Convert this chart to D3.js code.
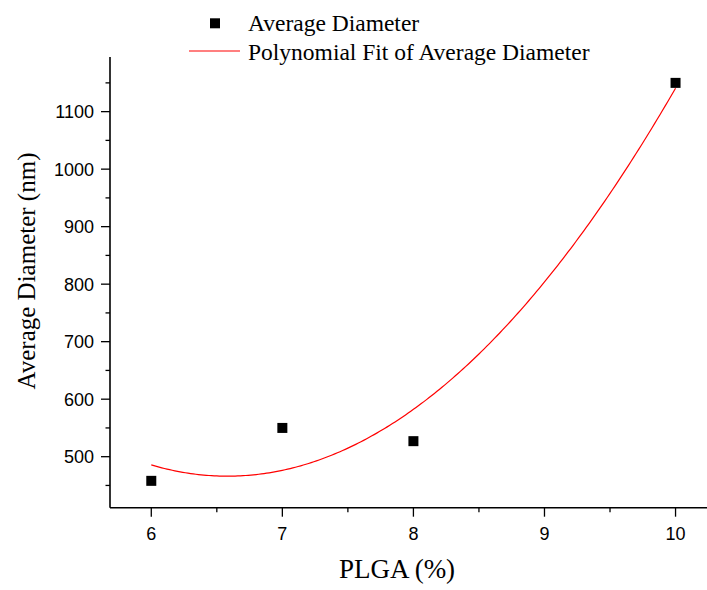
<!DOCTYPE html>
<html>
<head>
<meta charset="utf-8">
<script src="https://cdn.jsdelivr.net/npm/d3@7"></script>
<style>
  html, body { margin: 0; padding: 0; background: #fff; }
  svg { display: block; }
</style>
</head>
<body>
<svg id="chart" width="707" height="590"></svg>
<script>
// PLGA concentration (%) and measured average particle diameter (nm)
const plga = [6, 7, 8, 10];
const diameter = [458, 550, 527, 1150];

const xTicks = [6, 7, 8, 9, 10];
const yTicks = [500, 600, 700, 800, 900, 1000, 1100];

const legendLabels = ["Average Diameter", "Polynomial Fit of Average Diameter"];
const xTitle = "PLGA (%)";
const yTitle = "Average Diameter (nm)";

// Least-squares quadratic fit y = a + b*x + c*x^2
function quadFit(xs, ys) {
  const n = xs.length;
  let s = [0, 0, 0, 0, 0], t = [0, 0, 0];
  for (let i = 0; i < n; i++) {
    const x = xs[i], y = ys[i];
    for (let k = 0; k <= 4; k++) s[k] += Math.pow(x, k);
    for (let k = 0; k <= 2; k++) t[k] += Math.pow(x, k) * y;
  }
  const M = [[s[0], s[1], s[2], t[0]], [s[1], s[2], s[3], t[1]], [s[2], s[3], s[4], t[2]]];
  for (let i = 0; i < 3; i++) {
    for (let j = i + 1; j < 3; j++) {
      const f = M[j][i] / M[i][i];
      for (let k = i; k < 4; k++) M[j][k] -= f * M[i][k];
    }
  }
  const c = [0, 0, 0];
  for (let i = 2; i >= 0; i--) {
    let v = M[i][3];
    for (let k = i + 1; k < 3; k++) v -= M[i][k] * c[k];
    c[i] = v / M[i][i];
  }
  return c;
}

const coef = quadFit(plga, diameter);
const fitX = d3.range(0, 201).map(i => d3.min(plga) + (d3.max(plga) - d3.min(plga)) * i / 200);
const fitPts = fitX.map(x => [x, coef[0] + coef[1] * x + coef[2] * x * x]);

const svg = d3.select("#chart");

const x = d3.scaleLinear().domain([5.685, 10.24]).range([110, 707]);
const y = d3.scaleLinear().domain([411.3, 1195]).range([507.7, 57]);

const axisColor = "#000";

// x axis
const gx = svg.append("g").attr("transform", `translate(0,${y.range()[0]})`);
gx.append("line").attr("x1", x.range()[0]).attr("x2", x.range()[1])
  .attr("stroke", axisColor).attr("stroke-width", 1.6);
const xMinor = [6.5, 7.5, 8.5, 9.5];
gx.selectAll(".xminor").data(xMinor).enter().append("line")
  .attr("x1", d => x(d)).attr("x2", d => x(d)).attr("y1", 0).attr("y2", 4.5)
  .attr("stroke", axisColor).attr("stroke-width", 1.3);
gx.selectAll(".xmajor").data(xTicks).enter().append("line")
  .attr("x1", d => x(d)).attr("x2", d => x(d)).attr("y1", 0).attr("y2", 9)
  .attr("stroke", axisColor).attr("stroke-width", 1.3);
gx.selectAll(".xlab").data(xTicks).enter().append("text")
  .attr("x", d => x(d)).attr("y", 32)
  .attr("text-anchor", "middle")
  .attr("font-family", "Liberation Sans, Arial, sans-serif")
  .attr("font-size", 18).text(d => d);

// y axis
const gy = svg.append("g").attr("transform", `translate(${x.range()[0]},0)`);
gy.append("line").attr("y1", y.range()[0]).attr("y2", y.range()[1])
  .attr("stroke", axisColor).attr("stroke-width", 1.6);
const yMinor = d3.range(450, 1200, 100);
gy.selectAll(".yminor").data(yMinor).enter().append("line")
  .attr("x1", 0).attr("x2", -4.5).attr("y1", d => y(d)).attr("y2", d => y(d))
  .attr("stroke", axisColor).attr("stroke-width", 1.3);
gy.selectAll(".ymajor").data(yTicks).enter().append("line")
  .attr("x1", 0).attr("x2", -9).attr("y1", d => y(d)).attr("y2", d => y(d))
  .attr("stroke", axisColor).attr("stroke-width", 1.3);
gy.selectAll(".ylab").data(yTicks).enter().append("text")
  .attr("x", -16).attr("y", d => y(d) + 6.5)
  .attr("text-anchor", "end")
  .attr("font-family", "Liberation Sans, Arial, sans-serif")
  .attr("font-size", 18).text(d => d);

// fitted curve
const line = d3.line().x(d => x(d[0])).y(d => y(d[1]));
svg.append("path").datum(fitPts).attr("d", line)
  .attr("fill", "none").attr("stroke", "#ff0000").attr("stroke-width", 1.2);

// data markers
const ms = 10;
svg.selectAll(".pt").data(plga.map((v, i) => [v, diameter[i]])).enter().append("rect")
  .attr("x", d => x(d[0]) - ms / 2).attr("y", d => y(d[1]) - ms / 2)
  .attr("width", ms).attr("height", ms).attr("fill", "#000");

// axis titles
svg.append("text").attr("x", 397).attr("y", 578)
  .attr("text-anchor", "middle")
  .attr("font-family", "Liberation Serif, Times New Roman, serif")
  .attr("font-size", 27).text(xTitle);
svg.append("text")
  .attr("transform", "translate(35,271) rotate(-90)")
  .attr("text-anchor", "middle")
  .attr("font-family", "Liberation Serif, Times New Roman, serif")
  .attr("font-size", 25).text(yTitle);

// legend
const lg = svg.append("g");
lg.append("rect").attr("x", 210).attr("y", 18.3).attr("width", ms).attr("height", ms).attr("fill", "#000");
lg.append("line").attr("x1", 189).attr("x2", 240).attr("y1", 51).attr("y2", 51)
  .attr("stroke", "#ff0000").attr("stroke-width", 1.2);
lg.selectAll(".lt").data(legendLabels).enter().append("text")
  .attr("x", 248).attr("y", (d, i) => 31 + i * 28.5)
  .attr("font-family", "Liberation Serif, Times New Roman, serif")
  .attr("font-size", 23.5).text(d => d);
</script>
</body>
</html>
